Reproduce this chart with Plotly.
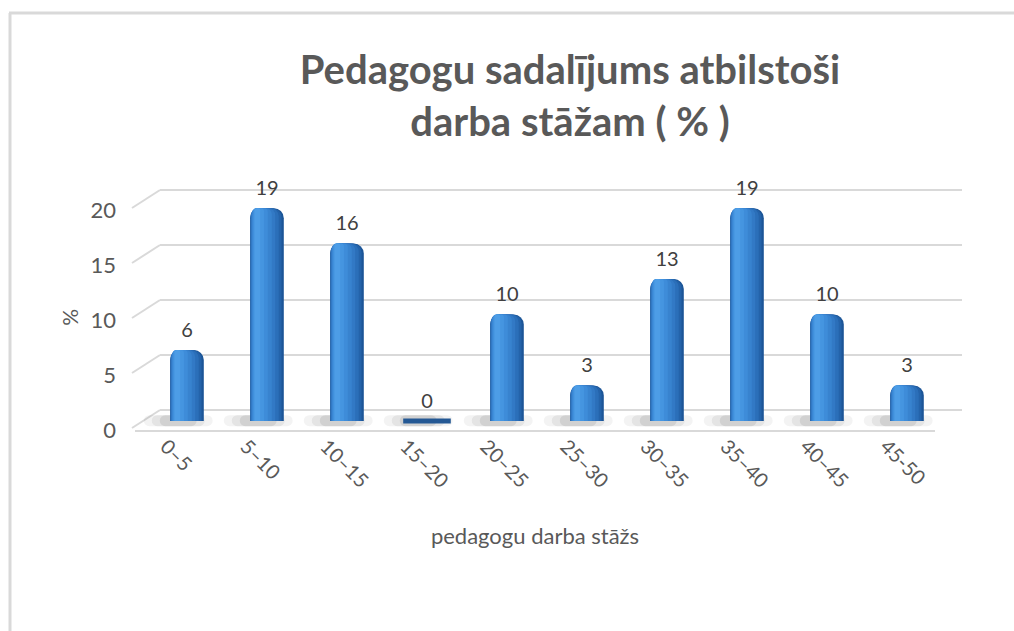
import plotly.graph_objects as go

# ---- data ----
categories = ["0–5", "5–10", "10–15", "15–20", "20–25", "25–30", "30–35", "35–40", "40–45", "45-50"]
percent = [6.45, 19.35, 16.13, 0.0, 9.68, 3.23, 12.90, 19.35, 9.68, 3.23]
y_ticks = [0, 5, 10, 15, 20]

title_text = "Pedagogu sadalījums atbilstoši<br>darba stāžam ( % )"
x_title = "pedagogu darba stāžs"
y_title = "%"

# ---- layout geometry (pixels in a 1014x631 canvas) ----
W, H = 1014, 631
YMAX = 20.5
PX_PER_UNIT = 11.0
NCAT = len(categories)
CAT_RANGE = [-0.5, NCAT - 0.5]


def xdom(a, b):
    return [a / W, b / W]


def ydom(base_px):
    top_px = base_px - YMAX * PX_PER_UNIT
    return [(H - base_px) / H, (H - top_px) / H]


FRONT_X = (135, 935)
LABEL_X = (126, 926)
BAR_X = (147, 947)
BACK_X = (160, 962)
FRONT_BASE = 430
BAR_BASE = 421
BACK_BASE = 410

TXT = "#595959"
GRID = "#d9d9d9"
FONT = "Lato"

fig = go.Figure()

# invisible traces to anchor the grid (x/y), floor (x2/y2) and label (x4/y2) axes
for xa, ya in (("x", "y"), ("x2", "y2"), ("x4", "y2")):
    fig.add_trace(go.Scatter(x=categories, y=[0] * NCAT, xaxis=xa, yaxis=ya,
                             mode="none", showlegend=False, hoverinfo="skip"))

# soft floor shadows under each cylinder (decorative, on the floor band)
for wid, op in ((0.86, 0.06), (0.66, 0.08), (0.46, 0.10)):
    fig.add_trace(go.Bar(
        x=categories, y=[1.0] * NCAT, base=0.35, xaxis="x2", yaxis="y2",
        offset=0.04 - wid / 2, width=wid,
        marker=dict(color=f"rgba(50,50,50,{op})", line=dict(width=0), cornerradius=6),
        hoverinfo="skip", showlegend=False,
    ))

# cylinder-like bars: layered overlay bars for shading
layers = [
    (-0.21, 0.42, "#1c5597"),
    (-0.208, 0.39, "#2463aa"),
    (-0.204, 0.35, "#2b6fb9"),
    (-0.198, 0.30, "#3279c5"),
    (-0.19, 0.25, "#3883cf"),
    (-0.18, 0.19, "#3e8cd9"),
    (-0.168, 0.13, "#4595e0"),
    (-0.155, 0.07, "#4d9de6"),
]
for off, wid, col in layers:
    fig.add_trace(go.Bar(
        x=categories, y=percent, xaxis="x3", yaxis="y3",
        offset=off, width=wid,
        marker=dict(color=col, line=dict(width=0), cornerradius=max(2, int(wid * 80 * 0.3))),
        hoverinfo="skip", showlegend=False,
    ))

# flat disc for zero-height cylinders
zero_cats = [c for c, v in zip(categories, percent) if v == 0]
fig.add_trace(go.Scatter(
    x=zero_cats, y=[0] * len(zero_cats), xaxis="x3", yaxis="y3",
    mode="markers", marker=dict(symbol="line-ew-open", size=34, color="#245894",
                                line=dict(width=5, color="#245894")),
    cliponaxis=False, hoverinfo="skip", showlegend=False,
))

# data labels above the bars
fig.add_trace(go.Scatter(
    x=categories, y=percent, xaxis="x3", yaxis="y3",
    mode="markers+text", marker=dict(size=12, opacity=0),
    text=[f"{v:.0f}" for v in percent], textposition="top center",
    textfont=dict(family=FONT, size=20, color="#404040"),
    cliponaxis=False, hoverinfo="skip", showlegend=False,
))

# perspective side lines (derived from tick values)
shapes = []
fd = ydom(FRONT_BASE)
bd = ydom(BACK_BASE)
for t in y_ticks:
    yf = fd[0] + t / YMAX * (fd[1] - fd[0])
    yb = bd[0] + t / YMAX * (bd[1] - bd[0])
    shapes.append(dict(type="line", xref="paper", yref="paper", layer="below",
                       x0=132 / W, y0=yf + 2 / H, x1=BACK_X[0] / W, y1=yb,
                       line=dict(color=GRID, width=2)))
# outer frame (top and left edges)
shapes.append(dict(type="line", xref="paper", yref="paper", x0=9 / W, y0=1 - 13 / H, x1=1.0, y1=1 - 13 / H,
                   line=dict(color=GRID, width=3)))
shapes.append(dict(type="line", xref="paper", yref="paper", x0=10 / W, y0=0, x1=10 / W, y1=1 - 13 / H,
                   line=dict(color=GRID, width=3)))

fig.update_layout(
    width=W, height=H,
    margin=dict(l=0, r=0, t=0, b=0, autoexpand=False),
    paper_bgcolor="white", plot_bgcolor="rgba(0,0,0,0)",
    barmode="overlay",
    font=dict(family=FONT, color=TXT),
    title=dict(text=title_text, x=570 / W, xanchor="center", y=1 - 84 / H, yanchor="top",
               automargin=False,
               font=dict(family=FONT, size=40, color=TXT, weight="bold")),
    # back wall axes: gridlines
    xaxis=dict(domain=xdom(*BACK_X), anchor="y", type="category", range=CAT_RANGE, visible=False,
               automargin=False, fixedrange=True),
    yaxis=dict(domain=ydom(BACK_BASE), anchor="x", range=[0, YMAX], tickvals=y_ticks,
               showticklabels=False, showgrid=True, gridcolor=GRID, gridwidth=2,
               zeroline=True, zerolinecolor=GRID, zerolinewidth=2, ticks="",
               automargin=False, fixedrange=True),
    # front floor edge + axis title
    xaxis2=dict(domain=xdom(*FRONT_X), anchor="y2", type="category", range=CAT_RANGE,
                showticklabels=False, showgrid=False, showline=True, linecolor=GRID, linewidth=2, ticks="",
                title=dict(text=x_title, font=dict(family=FONT, size=22, color=TXT), standoff=98),
                automargin=False, fixedrange=True),
    yaxis2=dict(domain=ydom(FRONT_BASE), anchor="x2", range=[0, YMAX],
                tickvals=y_ticks, tickfont=dict(family=FONT, size=22, color=TXT),
                ticklabelstandoff=18,
                showgrid=False, zeroline=False, showline=False, ticks="",
                title=dict(text=y_title, font=dict(family=FONT, size=21, color=TXT), standoff=6),
                automargin=False, fixedrange=True),
    # category labels (front, perspective-shifted)
    xaxis4=dict(domain=xdom(*LABEL_X), anchor="y2", type="category", range=CAT_RANGE,
                tickangle=45, tickfont=dict(family=FONT, size=20, color=TXT),
                showgrid=False, showline=False, ticks="", automargin=False, fixedrange=True),
    # bars axes
    xaxis3=dict(domain=xdom(*BAR_X), anchor="y3", type="category", range=CAT_RANGE, visible=False,
                categoryorder="array", categoryarray=categories, automargin=False, fixedrange=True),
    yaxis3=dict(domain=ydom(BAR_BASE), anchor="x3", range=[0, YMAX], visible=False,
                automargin=False, fixedrange=True),
    shapes=shapes,
)

fig.write_html("out.html", config={"displayModeBar": False},
               post_script="document.body.style.margin='0';document.body.style.overflow='hidden';")
